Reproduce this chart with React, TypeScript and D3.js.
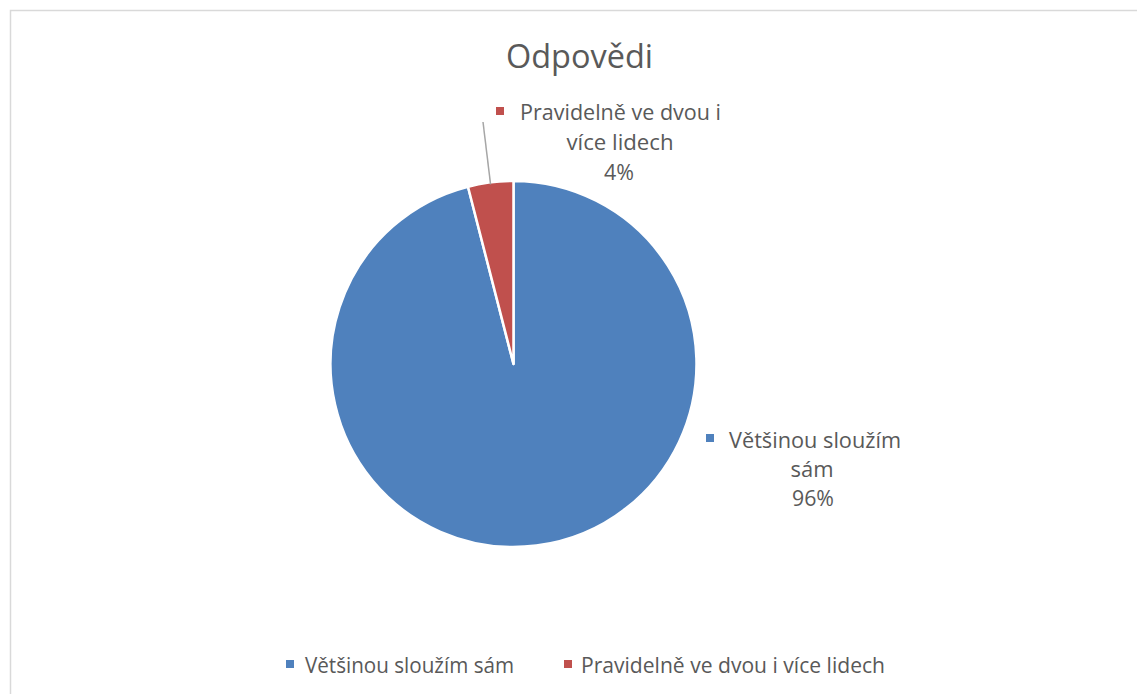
import React from "react";
import * as d3 from "d3";

const categories = ["Většinou sloužím sám", "Pravidelně ve dvou i více lidech"];
const values = [96, 4];
const colors = ["#4F81BD", "#C0504D"];
const title = "Odpovědi";

const W = 1137;
const H = 694;
const FONT = "'Open Sans', 'Noto Sans', sans-serif";
const TEXT = "#595959";
const FS = 21.5;

export default function App() {
  const cx = 513.5;
  const cy = 364;
  const r = 183;
  const total = d3.sum(values);
  const pie = d3.pie<number>().sort(null).startAngle(0).endAngle(2 * Math.PI);
  const arcs = pie(values);
  const arcGen = d3.arc<d3.PieArcDatum<number>>().innerRadius(0).outerRadius(r);
  const pct = (v: number) => `${Math.round((v / total) * 100)}%`;

  const red = arcs[1];
  const mid = (red.startAngle + red.endAngle) / 2;
  const edge = [Math.sin(mid) * r, -Math.cos(mid) * r];

  return (
    <svg width={W} height={H} style={{ position: "absolute", left: 0, top: 0 }}>
      <rect x={0} y={0} width={W} height={H} fill="#fff" />
      <rect x={10.5} y={10.5} width={1200} height={760} fill="#fff" stroke="#d9d9d9" strokeWidth={1.5} />
      <text x={579.5} y={68} textAnchor="middle" fontFamily={FONT} fontSize={33} fill={TEXT} textLength={147} lengthAdjust="spacingAndGlyphs">
        {title}
      </text>
      <g transform={`translate(${cx},${cy})`}>
        {arcs.map((a, i) => (
          <path key={i} d={arcGen(a) || ""} fill={colors[i]} stroke="#fff" strokeWidth={2.5} strokeLinejoin="round" />
        ))}
        <line x1={-30.5} y1={-242} x2={edge[0]} y2={edge[1] + 2} stroke="#a6a6a6" strokeWidth={1.5} />
      </g>
      {/* data label red */}
      <rect x={496} y={107} width={8} height={8} fill={colors[1]} />
      <text x={520} y={120} fontFamily={FONT} fontSize={FS} fill={TEXT} textLength={201} lengthAdjust="spacingAndGlyphs">
        Pravidelně ve dvou i
      </text>
      <text x={620} y={150} textAnchor="middle" fontFamily={FONT} fontSize={FS} fill={TEXT} textLength={107} lengthAdjust="spacingAndGlyphs">
        více lidech
      </text>
      <text x={619} y={180} textAnchor="middle" fontFamily={FONT} fontSize={FS} fill={TEXT} textLength={30} lengthAdjust="spacingAndGlyphs">
        {pct(values[1])}
      </text>
      {/* data label blue */}
      <rect x={706} y={434} width={8} height={8} fill={colors[0]} />
      <text x={729} y={448} fontFamily={FONT} fontSize={FS} fill={TEXT} textLength={172} lengthAdjust="spacingAndGlyphs">
        Většinou sloužím
      </text>
      <text x={812} y={477} textAnchor="middle" fontFamily={FONT} fontSize={FS} fill={TEXT} textLength={43} lengthAdjust="spacingAndGlyphs">
        sám
      </text>
      <text x={813} y={506} textAnchor="middle" fontFamily={FONT} fontSize={FS} fill={TEXT} textLength={42} lengthAdjust="spacingAndGlyphs">
        {pct(values[0])}
      </text>
      {/* legend */}
      <rect x={286} y={660} width={8} height={8} fill={colors[0]} />
      <text x={305} y={673} fontFamily={FONT} fontSize={FS} fill={TEXT} textLength={209} lengthAdjust="spacingAndGlyphs">
        {categories[0]}
      </text>
      <rect x={564} y={660} width={8} height={8} fill={colors[1]} />
      <text x={581} y={673} fontFamily={FONT} fontSize={FS} fill={TEXT} textLength={304} lengthAdjust="spacingAndGlyphs">
        {categories[1]}
      </text>
    </svg>
  );
}
